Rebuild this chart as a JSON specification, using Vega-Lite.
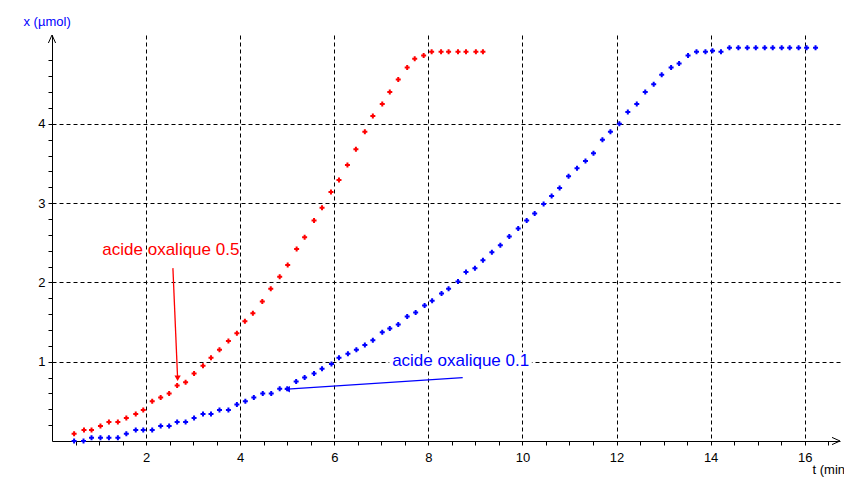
{
  "$schema": "https://vega.github.io/schema/vega-lite/v6.json",
  "width": 788,
  "height": 406,
  "autosize": {"type": "none"},
  "padding": {"left": 52, "top": 35, "right": 4, "bottom": 40},
  "background": "white",
  "config": {"view": {"stroke": null}, "font": "Liberation Sans"},
  "datasets": {
    "points": [
      {"serie": "0.5", "t": 0.47, "x": 0.09}, {"serie": "0.5", "t": 0.68, "x": 0.14}, {"serie": "0.5", "t": 0.84, "x": 0.14},
      {"serie": "0.5", "t": 1.03, "x": 0.19}, {"serie": "0.5", "t": 1.21, "x": 0.24}, {"serie": "0.5", "t": 1.40, "x": 0.24},
      {"serie": "0.5", "t": 1.58, "x": 0.29}, {"serie": "0.5", "t": 1.78, "x": 0.34}, {"serie": "0.5", "t": 1.94, "x": 0.39},
      {"serie": "0.5", "t": 2.13, "x": 0.50}, {"serie": "0.5", "t": 2.31, "x": 0.55}, {"serie": "0.5", "t": 2.49, "x": 0.60},
      {"serie": "0.5", "t": 2.66, "x": 0.70}, {"serie": "0.5", "t": 2.84, "x": 0.74}, {"serie": "0.5", "t": 3.02, "x": 0.85},
      {"serie": "0.5", "t": 3.21, "x": 0.95}, {"serie": "0.5", "t": 3.38, "x": 1.05}, {"serie": "0.5", "t": 3.56, "x": 1.15},
      {"serie": "0.5", "t": 3.75, "x": 1.26}, {"serie": "0.5", "t": 3.93, "x": 1.36}, {"serie": "0.5", "t": 4.10, "x": 1.51},
      {"serie": "0.5", "t": 4.27, "x": 1.61}, {"serie": "0.5", "t": 4.47, "x": 1.76}, {"serie": "0.5", "t": 4.65, "x": 1.92},
      {"serie": "0.5", "t": 4.84, "x": 2.07}, {"serie": "0.5", "t": 5.01, "x": 2.22}, {"serie": "0.5", "t": 5.20, "x": 2.42},
      {"serie": "0.5", "t": 5.37, "x": 2.57}, {"serie": "0.5", "t": 5.57, "x": 2.78}, {"serie": "0.5", "t": 5.74, "x": 2.94},
      {"serie": "0.5", "t": 5.93, "x": 3.14}, {"serie": "0.5", "t": 6.10, "x": 3.29}, {"serie": "0.5", "t": 6.28, "x": 3.48},
      {"serie": "0.5", "t": 6.46, "x": 3.68}, {"serie": "0.5", "t": 6.65, "x": 3.90}, {"serie": "0.5", "t": 6.82, "x": 4.10},
      {"serie": "0.5", "t": 7.02, "x": 4.25}, {"serie": "0.5", "t": 7.18, "x": 4.40}, {"serie": "0.5", "t": 7.36, "x": 4.56},
      {"serie": "0.5", "t": 7.55, "x": 4.71}, {"serie": "0.5", "t": 7.71, "x": 4.82}, {"serie": "0.5", "t": 7.90, "x": 4.86},
      {"serie": "0.5", "t": 8.07, "x": 4.91}, {"serie": "0.5", "t": 8.27, "x": 4.91}, {"serie": "0.5", "t": 8.43, "x": 4.91},
      {"serie": "0.5", "t": 8.63, "x": 4.91}, {"serie": "0.5", "t": 8.80, "x": 4.91}, {"serie": "0.5", "t": 9.01, "x": 4.91},
      {"serie": "0.5", "t": 9.16, "x": 4.91},
      {"serie": "0.1", "t": 0.47, "x": 0.00}, {"serie": "0.1", "t": 0.67, "x": 0.00}, {"serie": "0.1", "t": 0.84, "x": 0.04},
      {"serie": "0.1", "t": 1.03, "x": 0.04}, {"serie": "0.1", "t": 1.21, "x": 0.04}, {"serie": "0.1", "t": 1.40, "x": 0.04},
      {"serie": "0.1", "t": 1.58, "x": 0.09}, {"serie": "0.1", "t": 1.78, "x": 0.14}, {"serie": "0.1", "t": 1.94, "x": 0.14},
      {"serie": "0.1", "t": 2.13, "x": 0.14}, {"serie": "0.1", "t": 2.31, "x": 0.19}, {"serie": "0.1", "t": 2.49, "x": 0.19},
      {"serie": "0.1", "t": 2.66, "x": 0.24}, {"serie": "0.1", "t": 2.84, "x": 0.24}, {"serie": "0.1", "t": 3.02, "x": 0.29},
      {"serie": "0.1", "t": 3.21, "x": 0.34}, {"serie": "0.1", "t": 3.38, "x": 0.34}, {"serie": "0.1", "t": 3.56, "x": 0.39},
      {"serie": "0.1", "t": 3.75, "x": 0.39}, {"serie": "0.1", "t": 3.93, "x": 0.46}, {"serie": "0.1", "t": 4.11, "x": 0.50},
      {"serie": "0.1", "t": 4.29, "x": 0.55}, {"serie": "0.1", "t": 4.48, "x": 0.60}, {"serie": "0.1", "t": 4.66, "x": 0.60},
      {"serie": "0.1", "t": 4.84, "x": 0.66}, {"serie": "0.1", "t": 5.00, "x": 0.66}, {"serie": "0.1", "t": 5.19, "x": 0.75},
      {"serie": "0.1", "t": 5.37, "x": 0.80}, {"serie": "0.1", "t": 5.57, "x": 0.85}, {"serie": "0.1", "t": 5.74, "x": 0.91},
      {"serie": "0.1", "t": 5.94, "x": 0.97}, {"serie": "0.1", "t": 6.10, "x": 1.05}, {"serie": "0.1", "t": 6.29, "x": 1.10},
      {"serie": "0.1", "t": 6.47, "x": 1.15}, {"serie": "0.1", "t": 6.65, "x": 1.21}, {"serie": "0.1", "t": 6.82, "x": 1.27},
      {"serie": "0.1", "t": 7.02, "x": 1.37}, {"serie": "0.1", "t": 7.18, "x": 1.42}, {"serie": "0.1", "t": 7.36, "x": 1.47},
      {"serie": "0.1", "t": 7.55, "x": 1.57}, {"serie": "0.1", "t": 7.73, "x": 1.62}, {"serie": "0.1", "t": 7.92, "x": 1.71},
      {"serie": "0.1", "t": 8.08, "x": 1.77}, {"serie": "0.1", "t": 8.28, "x": 1.86}, {"serie": "0.1", "t": 8.43, "x": 1.92},
      {"serie": "0.1", "t": 8.63, "x": 2.01}, {"serie": "0.1", "t": 8.80, "x": 2.13}, {"serie": "0.1", "t": 8.99, "x": 2.18},
      {"serie": "0.1", "t": 9.16, "x": 2.28}, {"serie": "0.1", "t": 9.35, "x": 2.38}, {"serie": "0.1", "t": 9.53, "x": 2.47},
      {"serie": "0.1", "t": 9.72, "x": 2.58}, {"serie": "0.1", "t": 9.91, "x": 2.68}, {"serie": "0.1", "t": 10.09, "x": 2.78},
      {"serie": "0.1", "t": 10.26, "x": 2.87}, {"serie": "0.1", "t": 10.45, "x": 2.99}, {"serie": "0.1", "t": 10.62, "x": 3.09},
      {"serie": "0.1", "t": 10.79, "x": 3.19}, {"serie": "0.1", "t": 10.98, "x": 3.34}, {"serie": "0.1", "t": 11.16, "x": 3.44},
      {"serie": "0.1", "t": 11.34, "x": 3.53}, {"serie": "0.1", "t": 11.51, "x": 3.63}, {"serie": "0.1", "t": 11.70, "x": 3.80},
      {"serie": "0.1", "t": 11.87, "x": 3.90}, {"serie": "0.1", "t": 12.06, "x": 4.00}, {"serie": "0.1", "t": 12.24, "x": 4.15},
      {"serie": "0.1", "t": 12.43, "x": 4.25}, {"serie": "0.1", "t": 12.61, "x": 4.40}, {"serie": "0.1", "t": 12.79, "x": 4.50},
      {"serie": "0.1", "t": 12.96, "x": 4.62}, {"serie": "0.1", "t": 13.16, "x": 4.71}, {"serie": "0.1", "t": 13.33, "x": 4.76},
      {"serie": "0.1", "t": 13.52, "x": 4.86}, {"serie": "0.1", "t": 13.70, "x": 4.91}, {"serie": "0.1", "t": 13.89, "x": 4.91},
      {"serie": "0.1", "t": 14.04, "x": 4.92}, {"serie": "0.1", "t": 14.22, "x": 4.91}, {"serie": "0.1", "t": 14.40, "x": 4.96},
      {"serie": "0.1", "t": 14.59, "x": 4.96}, {"serie": "0.1", "t": 14.78, "x": 4.96}, {"serie": "0.1", "t": 14.96, "x": 4.96},
      {"serie": "0.1", "t": 15.15, "x": 4.96}, {"serie": "0.1", "t": 15.32, "x": 4.96}, {"serie": "0.1", "t": 15.51, "x": 4.96},
      {"serie": "0.1", "t": 15.68, "x": 4.96}, {"serie": "0.1", "t": 15.87, "x": 4.96}, {"serie": "0.1", "t": 16.04, "x": 4.96},
      {"serie": "0.1", "t": 16.23, "x": 4.96}
    ],
    "labels": [
      {"serie": "0.5", "label": "acide oxalique 0.5", "t": 1.07, "x": 2.35},
      {"serie": "0.1", "label": "acide oxalique 0.1", "t": 7.23, "x": 0.95}
    ],
    "arrows": [
      {"serie": "0.5", "t1": 2.57, "x1": 2.18, "t2": 2.67, "x2": 0.79},
      {"serie": "0.1", "t1": 8.73, "x1": 0.80, "t2": 5.0, "x2": 0.653}
    ],
    "labelbox": [
      {"t1": 7.17, "t2": 10.2, "x1": 0.9, "x2": 1.12}
    ]
  },
  "layer": [
    {
      "data": {"name": "points"},
      "mark": {"type": "point", "shape": "cross", "filled": true, "size": 25, "opacity": 1},
      "encoding": {
        "x": {
          "field": "t", "type": "quantitative",
          "scale": {"domain": [0, 16.75], "nice": false, "zero": false},
          "axis": {
            "values": [0.5, 1, 1.5, 2, 2.5, 3, 3.5, 4, 4.5, 5, 5.5, 6, 6.5, 7, 7.5, 8, 8.5, 9, 9.5, 10, 10.5, 11, 11.5, 12, 12.5, 13, 13.5, 14, 14.5, 15, 15.5, 16, 16.5],
            "tickCount": 200,
            "labelExpr": "datum.value % 2 === 0 && datum.value > 0 ? '' + datum.value : ''",
            "grid": true,
            "gridOpacity": {"condition": {"test": "datum.value % 2 === 0 && datum.value > 0", "value": 1}, "value": 0},
            "gridDash": [4, 3], "gridColor": "#000000", "gridWidth": 1,
            "tickSize": 4, "tickColor": "#000000", "domainColor": "#000000",
            "labelFont": "Liberation Sans", "labelFontSize": 13, "labelColor": "#000000", "labelPadding": 6,
            "labelFlush": false, "labelOverlap": false,
            "title": "t (min", "titleX": 760, "titleY": 32, "titleAlign": "left", "titleBaseline": "alphabetic",
            "titleFont": "Liberation Sans", "titleFontSize": 13, "titleFontWeight": "normal", "titleColor": "#000000"
          }
        },
        "y": {
          "field": "x", "type": "quantitative",
          "scale": {"domain": [0, 5.12], "nice": false, "zero": false},
          "axis": {
            "values": [0.2, 0.4, 0.6, 0.8, 1, 1.2, 1.4, 1.6, 1.8, 2, 2.2, 2.4, 2.6, 2.8, 3, 3.2, 3.4, 3.6, 3.8, 4, 4.2, 4.4, 4.6, 4.8],
            "tickCount": 200,
            "labelExpr": "abs(datum.value - round(datum.value)) < 0.001 ? '' + round(datum.value) : ''",
            "grid": true,
            "gridOpacity": {"condition": {"test": "abs(datum.value - round(datum.value)) < 0.001", "value": 1}, "value": 0},
            "gridDash": [4, 3], "gridColor": "#000000", "gridWidth": 1,
            "tickSize": 4, "tickColor": "#000000", "domainColor": "#000000",
            "labelFont": "Liberation Sans", "labelFontSize": 13, "labelColor": "#000000", "labelPadding": 3,
            "labelFlush": false, "labelOverlap": false,
            "title": "x (µmol)", "titleX": -29, "titleY": -10, "titleAngle": 0, "titleAlign": "left", "titleBaseline": "alphabetic",
            "titleFont": "Liberation Sans", "titleFontSize": 13, "titleFontWeight": "normal", "titleColor": "#0000ff"
          }
        },
        "color": {
          "field": "serie", "type": "nominal",
          "scale": {"domain": ["0.5", "0.1"], "range": ["#ff0000", "#0000ff"]},
          "legend": null
        }
      }
    },
    {
      "data": {"name": "labelbox"},
      "mark": {"type": "rect", "fill": "white", "stroke": null},
      "encoding": {
        "x": {"field": "t1", "type": "quantitative"},
        "x2": {"field": "t2"},
        "y": {"field": "x1", "type": "quantitative"},
        "y2": {"field": "x2"}
      }
    },
    {
      "data": {"name": "labels"},
      "mark": {"type": "text", "align": "left", "baseline": "alphabetic", "font": "Liberation Sans", "fontSize": 17},
      "encoding": {
        "x": {"field": "t", "type": "quantitative"},
        "y": {"field": "x", "type": "quantitative"},
        "text": {"field": "label"},
        "color": {"field": "serie", "type": "nominal", "legend": null}
      }
    },
    {
      "data": {"name": "arrows"},
      "mark": {"type": "rule", "strokeWidth": 1.3},
      "encoding": {
        "x": {"field": "t1", "type": "quantitative"},
        "y": {"field": "x1", "type": "quantitative"},
        "x2": {"field": "t2"},
        "y2": {"field": "x2"},
        "color": {"field": "serie", "type": "nominal", "legend": null}
      }
    },
    {
      "data": {"name": "arrows"},
      "mark": {"type": "point", "filled": true, "size": 40, "opacity": 1},
      "encoding": {
        "x": {"field": "t2", "type": "quantitative"},
        "y": {"field": "x2", "type": "quantitative"},
        "shape": {"field": "serie", "type": "nominal", "scale": {"domain": ["0.5", "0.1"], "range": ["triangle-down", "triangle-left"]}, "legend": null},
        "color": {"field": "serie", "type": "nominal", "legend": null}
      }
    },
    {
      "data": {"values": [{"axe": "y"}]},
      "mark": {"type": "point", "shape": "M-0.45,1L0,0L0.45,1", "size": 256, "filled": false, "stroke": "#000000", "strokeWidth": 1, "opacity": 1},
      "encoding": {
        "x": {"datum": 0, "type": "quantitative"},
        "y": {"datum": 5.12, "type": "quantitative"}
      }
    },
    {
      "data": {"values": [{"axe": "x"}]},
      "mark": {"type": "point", "shape": "M-1,-0.45L0,0L-1,0.45", "size": 256, "filled": false, "stroke": "#000000", "strokeWidth": 1, "opacity": 1},
      "encoding": {
        "x": {"datum": 16.75, "type": "quantitative"},
        "y": {"datum": 0, "type": "quantitative"}
      }
    }
  ]
}
